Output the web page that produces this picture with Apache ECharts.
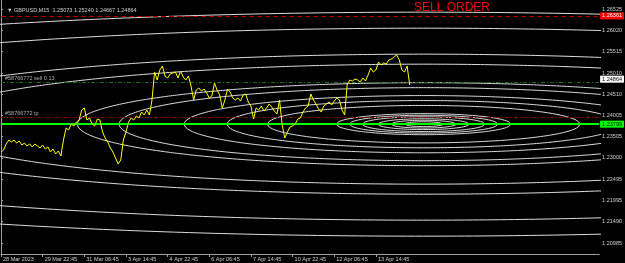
<!DOCTYPE html>
<html><head><meta charset="utf-8">
<script src="https://cdn.jsdelivr.net/npm/echarts@6/dist/echarts.min.js"></script>
<style>html,body{margin:0;padding:0;background:#000;}#c{width:625px;height:263px;}</style>
</head><body><div id="c"></div>
<script>
// ---- data ----
const symbolTitle = 'GBPUSD,M15  1.25073 1.25240 1.24667 1.24864';
const orderText = 'SELL ORDER';
const hoursPerPoint = 2;
const closePrices = [
1.23140,1.23188,1.23330,1.23424,1.23377,1.23424,1.23353,1.23401,1.23306,1.23353,
1.23282,1.23330,1.23259,1.23330,1.23282,1.23235,1.23306,1.23211,1.23259,1.23140,
1.23211,1.23093,1.23164,1.23046,1.23424,1.23708,1.23661,1.23803,1.23756,1.23850,
1.23898,1.24134,1.24182,1.23898,1.23945,1.23803,1.23756,1.23921,1.23898,1.23614,
1.23472,1.23377,1.23235,1.23140,1.22998,1.22856,1.22951,1.23424,1.23614,1.23850,
1.23945,1.23898,1.23992,1.23945,1.24087,1.24016,1.24134,1.24016,1.24371,1.25034,
1.24844,1.25081,1.25176,1.24939,1.24892,1.24986,1.25010,1.25034,1.24892,1.25057,
1.24915,1.24844,1.24939,1.24702,1.24371,1.24608,1.24655,1.24584,1.24631,1.24537,
1.24418,1.24466,1.24773,1.24608,1.24489,1.24182,1.24371,1.24631,1.24560,1.24418,
1.24371,1.24418,1.24347,1.24489,1.24513,1.24324,1.24229,1.23921,1.24182,1.24134,
1.24229,1.24111,1.24182,1.24276,1.24205,1.24111,1.24040,1.24371,1.23779,1.23472,
1.23614,1.23732,1.23756,1.23803,1.23921,1.23945,1.24087,1.24182,1.24229,1.24513,
1.24371,1.24276,1.24158,1.24087,1.24229,1.24276,1.24324,1.24253,1.24347,1.24418,
1.24371,1.24134,1.24016,1.24750,1.24844,1.24821,1.24868,1.24844,1.24797,1.24892,
1.24821,1.24963,1.25128,1.25034,1.25081,1.25270,1.25199,1.25247,1.25223,1.25318,
1.25342,1.25389,1.25436,1.25318,1.25081,1.25034,1.25176,1.24726
];
const timeTickLabels = ['28 Mar 2023','29 Mar 22:45','31 Mar 06:45','3 Apr 14:45','4 Apr 22:45',
  '6 Apr 06:45','7 Apr 14:45','10 Apr 22:45','12 Apr 06:45','13 Apr 14:45'];
const timeTickStep = 32;
const priceTickValues = [1.26525,1.26020,1.25515,1.25010,1.24510,1.24005,1.23505,1.23000,1.22495,1.21995,1.21490,1.20985];
const stopLevel = 1.26361;
const openLevel = 1.24797;
const takeProfitLevel = 1.23969;
const bidPrice = 1.24864;
const lineLevel = 1.23799;
const openText = '#58766772 sell 0.13';
const tpText = '#58766772 tp';
const ellipseCenterHour = 324.7;
const ellipseCenterPrice = 1.23799;
const ellipseHalfWidthHours = [719,616,449,385,266,234,184,151,120,67,57,47,35,25,15];
const ellipseHalfHeightPrice = [0.02651,0.02272,0.01657,0.01420,0.00982,0.00864,0.00677,0.00559,0.00443,0.00249,0.00211,0.00175,0.00128,0.00092,0.00057];

// ---- chart ----
const chart = echarts.init(document.getElementById('c'), null, {renderer:'canvas'});
const FONT = 'Liberation Sans, Arial, sans-serif';
const priceData = closePrices.map((v,i)=>[i*hoursPerPoint, v]);
const timeTickValues = timeTickLabels.map((_, i) => i * timeTickStep);

const ellipseSeries = ellipseHalfWidthHours.map((rx, k) => {
  const ry = ellipseHalfHeightPrice[k];
  const pts = [];
  const N = 720;
  for (let j = 0; j <= N; j++) {
    const a = j / N * Math.PI * 2;
    pts.push([ellipseCenterHour + rx * Math.cos(a), ellipseCenterPrice + ry * Math.sin(a)]);
  }
  return {
    type: 'line', data: pts, showSymbol: false, silent: true, animation: false,
    lineStyle: {color: '#dcdcdc', width: 1}, z: 2, clip: true
  };
});

const boxLabel = (bg, fg) => ({
  show: true, position: 'end', distance: 1,
  formatter: p => Number(p.value).toFixed(5),
  backgroundColor: bg, color: fg, fontSize: 5.5, fontFamily: FONT, padding: [1, 2, 0, 2]
});

const option = {
  backgroundColor: '#000',
  animation: false,
  title: [
    {text: '\u25BC ' + symbolTitle, left: 2, top: 2,
     textStyle: {color: '#d0d0d0', fontSize: 5.5, fontWeight: 'normal', fontFamily: FONT}},
    {text: orderText, left: 409, top: -3,
     textStyle: {color: '#ff0000', fontSize: 12, fontWeight: 'normal', fontFamily: FONT}}
  ],
  grid: {left: 0, right: 23.5, top: 0, bottom: 9, containLabel: false},
  xAxis: {
    type: 'value', min: 0, max: 459.5,
    axisLine: {show: true, lineStyle: {color: '#a0a0a0', width: 1}},
    axisTick: {show: true, length: 3, customValues: timeTickValues, lineStyle: {color: '#a0a0a0'}},
    splitLine: {show: false},
    axisLabel: {
      color: '#d0d0d0', fontSize: 5.5, fontFamily: FONT, margin: 2, align: 'left',
      customValues: timeTickValues, padding: [0,0,0,2],
      formatter: v => { const i = Math.round(v / timeTickStep); return timeTickLabels[i] || ''; }
    }
  },
  yAxis: {
    type: 'value', position: 'right', min: 1.20726, max: 1.26738,
    axisLine: {show: true, lineStyle: {color: '#a0a0a0', width: 1}},
    axisTick: {show: true, length: 2, inside: false, customValues: priceTickValues, lineStyle: {color: '#a0a0a0'}},
    splitLine: {show: false},
    axisLabel: {
      color: '#d0d0d0', fontSize: 5.5, fontFamily: FONT, margin: 3,
      customValues: priceTickValues, formatter: v => v.toFixed(5)
    }
  },
  series: [
    ...ellipseSeries,
    {
      type: 'line', data: priceData, showSymbol: false, silent: true, z: 5,
      lineStyle: {color: '#ffff00', width: 1},
      markLine: {
        silent: true, symbol: 'none', animation: false, precision: 5,
        data: [
          {yAxis: stopLevel, lineStyle: {color: '#b00000', type: [5, 3], width: 1}, label: boxLabel('#ff0000', '#ffffff')},
          {yAxis: openLevel, lineStyle: {color: '#1e6b1e', type: [4, 2, 1, 2], width: 1},
            label: {show: true, position: 'insideStartTop', distance: [4, 1], formatter: openText, color: '#b0b0b0', fontSize: 5.5, fontFamily: FONT}},
          {yAxis: bidPrice, lineStyle: {color: 'rgba(0,0,0,0)', width: 1}, label: boxLabel('#ffffff', '#000000')},
          {yAxis: takeProfitLevel, lineStyle: {color: '#8b0000', type: [4, 2, 1, 2], width: 1},
            label: {show: true, position: 'insideStartTop', distance: [4, 1], formatter: tpText, color: '#b0b0b0', fontSize: 5.5, fontFamily: FONT}},
          {yAxis: lineLevel, lineStyle: {color: '#00ff00', type: 'solid', width: 2}, label: boxLabel('#00ff00', '#000000')}
        ]
      }
    }
  ]
};
chart.setOption(option);
</script>
</body></html>
